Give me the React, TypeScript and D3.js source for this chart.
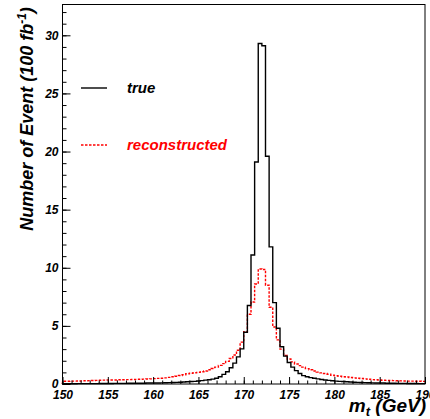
import React, { useEffect, useRef } from "react";
import * as d3 from "d3";

// histogram binning (GeV)
const massLow = 150;
const massHigh = 190;
const binWidth = 0.4;

// true top mass, 100 bins of 0.4 GeV from 150 to 190
const trueCounts = [
  0.02, 0.02, 0.02, 0.02, 0.03, 0.03, 0.03, 0.03, 0.03, 0.03,
  0.04, 0.04, 0.04, 0.04, 0.05, 0.05, 0.05, 0.05, 0.06, 0.06,
  0.06, 0.07, 0.07, 0.08, 0.08, 0.09, 0.09, 0.1, 0.11, 0.12,
  0.13, 0.14, 0.15, 0.17, 0.19, 0.21, 0.23, 0.26, 0.29, 0.33,
  0.36, 0.42, 0.49, 0.63, 0.83, 1.05, 1.4, 1.8, 2.33, 3.02,
  4.45, 6.75, 11.1, 19.1, 29.3, 29.1, 19.6, 11.8, 7.0, 4.8,
  3.2, 2.4, 1.85, 1.45, 1.15, 0.9, 0.72, 0.62, 0.55, 0.49,
  0.44, 0.39, 0.35, 0.31, 0.28, 0.25, 0.23, 0.21, 0.19, 0.17,
  0.15, 0.14, 0.13, 0.12, 0.11, 0.1, 0.09, 0.08, 0.08, 0.07,
  0.06, 0.06, 0.05, 0.05, 0.05, 0.04, 0.04, 0.04, 0.03, 0.03,
];

// reconstructed top mass, same binning
const recoCounts = [
  0.24, 0.24, 0.25, 0.25, 0.26, 0.27, 0.28, 0.29, 0.3, 0.31,
  0.32, 0.33, 0.34, 0.35, 0.35, 0.36, 0.37, 0.38, 0.38, 0.39,
  0.4, 0.41, 0.42, 0.43, 0.44, 0.46, 0.48, 0.5, 0.53, 0.57,
  0.62, 0.67, 0.73, 0.8, 0.88, 0.93, 0.97, 1.0, 1.05, 1.12,
  1.22, 1.33, 1.45, 1.6, 1.75, 1.95, 2.2, 2.5, 2.9, 3.6,
  4.5, 6.0, 7.05, 8.6, 9.9, 9.85, 8.5, 6.6, 4.9, 3.8,
  3.0, 2.45, 2.15, 1.9, 1.72, 1.58, 1.45, 1.32, 1.22, 1.12,
  1.02, 0.96, 0.9, 0.84, 0.75, 0.71, 0.67, 0.63, 0.6, 0.56,
  0.53, 0.5, 0.47, 0.44, 0.41, 0.38, 0.36, 0.34, 0.32, 0.31,
  0.3, 0.29, 0.28, 0.27, 0.26, 0.25, 0.25, 0.24, 0.24, 0.23,
];

const xTickValues = [150, 155, 160, 165, 170, 175, 180, 185, 190];
const yTickValues = [0, 5, 10, 15, 20, 25, 30];
const yMax = 32.65;

export default function App() {
  const svgRef = useRef<SVGSVGElement>(null);

  useEffect(() => {
    const svg = d3.select(svgRef.current);
    svg.selectAll("*").remove();

    const width = 430;
    const height = 419;
    const frame = { left: 62.5, right: 425, top: 4.5, bottom: 384 };
    const font = "'Liberation Sans', Arial, Helvetica, sans-serif";

    svg.append("rect").attr("width", width).attr("height", height).attr("fill", "#fff");

    const x = d3.scaleLinear().domain([massLow, massHigh]).range([frame.left, frame.right]);
    const y = d3.scaleLinear().domain([0, yMax]).range([frame.bottom, frame.top]);

    // step outline like ROOT's histogram drawing
    const stepLine = d3
      .line<[number, number]>()
      .x((d) => x(d[0]))
      .y((d) => y(d[1]))
      .curve(d3.curveStepAfter);

    const toSteps = (counts: number[]): [number, number][] => {
      const pts: [number, number][] = [[massLow, 0]];
      counts.forEach((c, i) => pts.push([massLow + i * binWidth, c]));
      pts.push([massLow + counts.length * binWidth, counts[counts.length - 1]]);
      pts.push([massLow + counts.length * binWidth, 0]);
      return pts;
    };

    svg
      .append("path")
      .attr("d", stepLine(toSteps(recoCounts)))
      .attr("fill", "none")
      .attr("stroke", "#ff0000")
      .attr("stroke-width", 1.4)
      .attr("stroke-dasharray", "2.5,1.5");

    svg
      .append("path")
      .attr("d", stepLine(toSteps(trueCounts)))
      .attr("fill", "none")
      .attr("stroke", "#000")
      .attr("stroke-width", 1.4);

    // X axis, ticks pointing inwards
    const xAxis = svg
      .append("g")
      .attr("transform", `translate(0,${frame.bottom})`)
      .call(d3.axisBottom(x).tickValues(xTickValues).tickSize(-7).tickPadding(6).tickFormat(d3.format("d")));
    xAxis.select(".domain").remove();
    xAxis
      .selectAll("text")
      .attr("fill", "#000")
      .style("font-family", font)
      .style("font-size", "12px")
      .style("font-weight", "bold")
      .style("font-style", "italic");

    const xMinor = svg
      .append("g")
      .attr("transform", `translate(0,${frame.bottom})`)
      .call(d3.axisBottom(x).tickValues(d3.range(massLow, massHigh + 1, 1)).tickSize(-3.5).tickFormat(() => ""));
    xMinor.select(".domain").remove();

    // Y axis
    const yAxis = svg
      .append("g")
      .attr("transform", `translate(${frame.left},0)`)
      .call(d3.axisLeft(y).tickValues(yTickValues).tickSize(-8).tickPadding(4).tickFormat(d3.format("d")));
    yAxis.select(".domain").remove();
    yAxis
      .selectAll("text")
      .attr("fill", "#000")
      .style("font-family", font)
      .style("font-size", "12px")
      .style("font-weight", "bold")
      .style("font-style", "italic");

    const yMinor = svg
      .append("g")
      .attr("transform", `translate(${frame.left},0)`)
      .call(d3.axisLeft(y).tickValues(d3.range(0, 33, 1)).tickSize(-4).tickFormat(() => ""));
    yMinor.select(".domain").remove();

    svg.selectAll(".tick line").attr("stroke", "#000");

    // frame
    svg
      .append("rect")
      .attr("x", frame.left)
      .attr("y", frame.top)
      .attr("width", frame.right - frame.left)
      .attr("height", frame.bottom - frame.top)
      .attr("fill", "none")
      .attr("stroke", "#000")
      .attr("stroke-width", 1);

    // axis titles
    const xTitle = svg
      .append("text")
      .attr("x", 426)
      .attr("y", 412)
      .attr("text-anchor", "end")
      .style("font-family", font)
      .style("font-size", "19px")
      .style("font-weight", "bold")
      .style("font-style", "italic");
    xTitle.append("tspan").text("m");
    xTitle.append("tspan").attr("dy", 4).style("font-size", "13px").text("t");
    xTitle.append("tspan").attr("dy", -4).text(" (GeV)");

    const yTitle = svg
      .append("text")
      .attr("transform", "rotate(-90)")
      .attr("x", -119)
      .attr("y", 33)
      .attr("text-anchor", "middle")
      .style("font-family", font)
      .style("font-size", "18px")
      .style("font-weight", "bold")
      .style("font-style", "italic");
    yTitle.append("tspan").text("Number of Event (100 fb");
    yTitle.append("tspan").attr("dy", -7).style("font-size", "12px").text("-1");
    yTitle.append("tspan").attr("dy", 7).text(")");

    // legend
    const legend = [
      { label: "true", color: "#000", dash: null, y: 88 },
      { label: "reconstructed", color: "#ff0000", dash: "2.5,1.5", y: 145 },
    ];
    legend.forEach((d) => {
      svg
        .append("line")
        .attr("x1", 81)
        .attr("x2", 107)
        .attr("y1", d.y)
        .attr("y2", d.y)
        .attr("stroke", d.color)
        .attr("stroke-width", 1.4)
        .attr("stroke-dasharray", d.dash);
      svg
        .append("text")
        .attr("x", 127)
        .attr("y", d.y + 5)
        .attr("fill", d.color)
        .style("font-family", font)
        .style("font-size", "15px")
        .style("font-weight", "bold")
        .style("font-style", "italic")
        .text(d.label);
    });
  }, []);

  return (
    <svg
      ref={svgRef}
      width={430}
      height={419}
      style={{ position: "absolute", left: 0, top: 0, display: "block" }}
    ></svg>
  );
}
